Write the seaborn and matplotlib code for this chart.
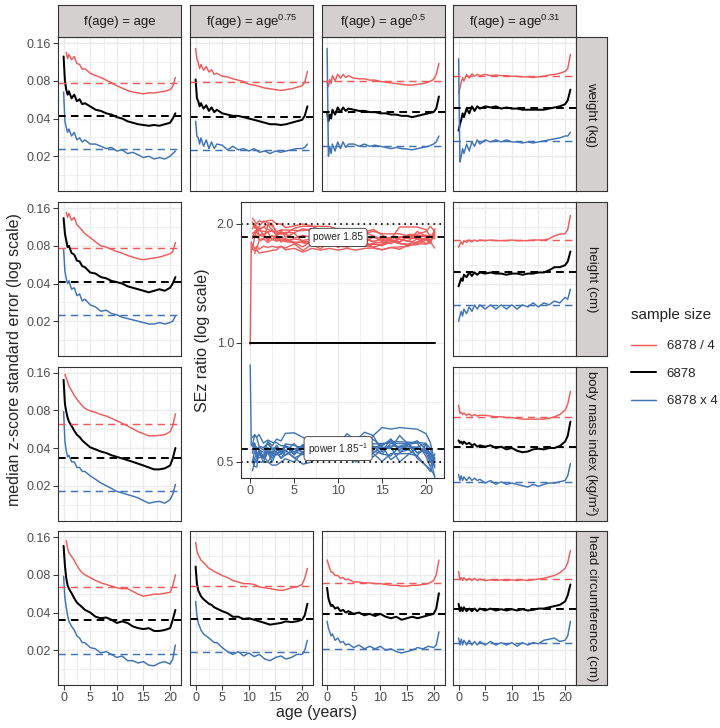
import numpy as np
import pandas as pd
import matplotlib
matplotlib.use("Agg")
import matplotlib.pyplot as plt
import seaborn as sns
from matplotlib.lines import Line2D
from matplotlib.ticker import FixedLocator, FixedFormatter, NullFormatter

nan = np.nan
# ---------------- data ----------------
ages = [0, 0.25, 0.5, 0.75, 1, 1.5, 2, 2.5, 3, 3.5, 4, 5, 6, 7, 8, 9, 10, 11, 12, 13, 14, 15, 16, 17, 18, 19, 20, 20.5, 21]
sample_sizes = ["6878 / 4", "6878", "6878 x 4"]
measures = ["weight (kg)", "height (cm)", "body mass index (kg/m²)", "head circumference (cm)"]
powers = ["f(age) = age", "f(age) = age$^{0.75}$", "f(age) = age$^{0.5}$", "f(age) = age$^{0.31}$"]
power_ratio = 1.85

# weight
wt_p100_red = [nan, nan, 0.135, 0.12, 0.13, 0.118, 0.125, 0.11, 0.108, 0.099, 0.1, 0.092, 0.088, 0.085, 0.081, 0.077, 0.073, 0.07, 0.067, 0.065, 0.064, 0.063, 0.064, 0.064, 0.065, 0.066, 0.068, 0.072, 0.085]
wt_p100_blk = [0.125, 0.08, 0.068, 0.062, 0.066, 0.058, 0.062, 0.055, 0.057, 0.052, 0.053, 0.05, 0.047, 0.046, 0.044, 0.043, 0.041, 0.04, 0.038, 0.037, 0.036, 0.0355, 0.035, 0.0355, 0.035, 0.036, 0.037, 0.04, 0.044]
wt_p100_blu = [0.065, 0.038, 0.034, 0.031, 0.033, 0.029, 0.031, 0.027, 0.028, 0.026, 0.027, 0.025, 0.025, 0.024, 0.023, 0.0235, 0.022, 0.0225, 0.021, 0.0215, 0.0205, 0.0195, 0.02, 0.019, 0.0195, 0.019, 0.02, 0.021, 0.022]
wt_p075_red = [0.145, 0.12, 0.112, 0.1, 0.108, 0.097, 0.104, 0.094, 0.098, 0.09, 0.092, 0.087, 0.086, 0.083, 0.081, 0.079, 0.075, 0.074, 0.072, 0.07, 0.069, 0.068, 0.067, 0.068, 0.069, 0.071, 0.073, 0.078, 0.095]
wt_p075_blk = [0.082, 0.058, 0.055, 0.05, 0.053, 0.048, 0.051, 0.046, 0.049, 0.045, 0.047, 0.044, 0.043, 0.042, 0.042, 0.041, 0.04, 0.039, 0.038, 0.037, 0.036, 0.036, 0.0355, 0.036, 0.037, 0.038, 0.039, 0.042, 0.05]
wt_p075_blu = [0.038, 0.029, 0.028, 0.025, 0.028, 0.024, 0.027, 0.023, 0.026, 0.023, 0.025, 0.0245, 0.0225, 0.024, 0.0225, 0.023, 0.022, 0.023, 0.0215, 0.022, 0.021, 0.022, 0.0215, 0.022, 0.0225, 0.023, 0.023, 0.0235, 0.025]
wt_p050_red = [0.078, 0.072, 0.082, 0.076, 0.088, 0.08, 0.09, 0.084, 0.09, 0.085, 0.088, 0.084, 0.083, 0.083, 0.081, 0.081, 0.079, 0.078, 0.077, 0.076, 0.075, 0.074, 0.074, 0.075, 0.076, 0.078, 0.082, 0.09, 0.11]
wt_p050_blk = [0.045, 0.038, 0.043, 0.04, 0.047, 0.043, 0.049, 0.045, 0.049, 0.046, 0.048, 0.047, 0.046, 0.046, 0.045, 0.045, 0.044, 0.044, 0.043, 0.043, 0.042, 0.042, 0.041, 0.042, 0.043, 0.044, 0.045, 0.048, 0.06]
wt_p050_blu = [0.145, 0.02, 0.024, 0.021, 0.025, 0.022, 0.026, 0.023, 0.026, 0.0235, 0.025, 0.025, 0.024, 0.025, 0.024, 0.0245, 0.024, 0.0235, 0.023, 0.0235, 0.023, 0.0228, 0.0225, 0.023, 0.0235, 0.024, 0.025, 0.026, 0.029]
wt_p031_red = [0.063, 0.07, 0.078, 0.085, 0.08, 0.09, 0.084, 0.091, 0.087, 0.09, 0.088, 0.09, 0.088, 0.089, 0.088, 0.088, 0.087, 0.087, 0.086, 0.086, 0.085, 0.086, 0.087, 0.089, 0.09, 0.092, 0.095, 0.1, 0.13]
wt_p031_blk = [0.032, 0.036, 0.039, 0.044, 0.041, 0.048, 0.044, 0.05, 0.046, 0.05, 0.048, 0.05, 0.049, 0.05, 0.048, 0.049, 0.048, 0.048, 0.047, 0.047, 0.047, 0.047, 0.047, 0.048, 0.049, 0.05, 0.052, 0.056, 0.068]
wt_p031_blu = [0.12, 0.018, 0.02, 0.023, 0.021, 0.025, 0.022, 0.026, 0.024, 0.027, 0.025, 0.027, 0.026, 0.027, 0.026, 0.027, 0.026, 0.026, 0.0255, 0.026, 0.0255, 0.026, 0.0265, 0.027, 0.0275, 0.028, 0.029, 0.029, 0.031]
# height
ht_p100_red = [nan, nan, 0.148, 0.135, 0.145, 0.128, 0.135, 0.118, 0.112, 0.106, 0.1, 0.093, 0.086, 0.08, 0.078, 0.075, 0.072, 0.07, 0.067, 0.065, 0.063, 0.062, 0.063, 0.064, 0.065, 0.067, 0.069, 0.072, 0.085]
ht_p100_blk = [0.133, 0.1, 0.088, 0.078, 0.08, 0.07, 0.068, 0.061, 0.06, 0.055, 0.054, 0.049, 0.048, 0.045, 0.044, 0.042, 0.041, 0.04, 0.038, 0.037, 0.036, 0.035, 0.034, 0.035, 0.036, 0.035, 0.037, 0.04, 0.045]
ht_p100_blu = [0.075, 0.05, 0.044, 0.04, 0.042, 0.036, 0.037, 0.032, 0.033, 0.029, 0.03, 0.027, 0.026, 0.024, 0.0245, 0.023, 0.0225, 0.0215, 0.021, 0.0205, 0.02, 0.0195, 0.019, 0.019, 0.0195, 0.019, 0.0195, 0.02, 0.022]
ht_p031_red = [0.078, 0.083, 0.086, 0.082, 0.088, 0.085, 0.089, 0.086, 0.089, 0.087, 0.089, 0.088, 0.089, 0.088, 0.088, 0.088, 0.089, 0.088, 0.088, 0.088, 0.089, 0.089, 0.089, 0.091, 0.096, 0.099, 0.1, 0.108, 0.14]
ht_p031_blk = [0.038, 0.041, 0.044, 0.042, 0.047, 0.045, 0.049, 0.046, 0.049, 0.047, 0.049, 0.048, 0.049, 0.048, 0.048, 0.047, 0.048, 0.048, 0.047, 0.048, 0.048, 0.049, 0.049, 0.051, 0.054, 0.054, 0.056, 0.06, 0.072]
ht_p031_blu = [0.02, 0.022, 0.024, 0.022, 0.025, 0.023, 0.026, 0.024, 0.027, 0.025, 0.027, 0.025, 0.027, 0.025, 0.027, 0.025, 0.027, 0.025, 0.027, 0.026, 0.028, 0.026, 0.028, 0.027, 0.029, 0.028, 0.031, 0.03, 0.036]
# body mass index
bmi_p100_red = [nan, 0.155, 0.145, 0.135, 0.125, 0.115, 0.105, 0.098, 0.092, 0.087, 0.083, 0.079, 0.077, 0.074, 0.072, 0.069, 0.066, 0.063, 0.06, 0.057, 0.054, 0.052, 0.05, 0.05, 0.0505, 0.051, 0.054, 0.06, 0.075]
bmi_p100_blk = [0.14, 0.09, 0.078, 0.07, 0.065, 0.06, 0.055, 0.051, 0.049, 0.046, 0.044, 0.0405, 0.039, 0.0375, 0.0365, 0.035, 0.034, 0.033, 0.032, 0.031, 0.03, 0.029, 0.028, 0.027, 0.027, 0.0275, 0.029, 0.033, 0.04]
bmi_p100_blu = [0.078, 0.045, 0.038, 0.034, 0.035, 0.031, 0.031, 0.028, 0.028, 0.026, 0.026, 0.024, 0.0225, 0.021, 0.02, 0.019, 0.018, 0.0175, 0.017, 0.0165, 0.016, 0.0152, 0.0145, 0.0148, 0.015, 0.0145, 0.0155, 0.017, 0.0205]
bmi_p031_red = [0.088, 0.076, 0.077, 0.074, 0.076, 0.073, 0.075, 0.072, 0.074, 0.072, 0.073, 0.073, 0.072, 0.071, 0.071, 0.07, 0.07, 0.069, 0.068, 0.068, 0.068, 0.068, 0.068, 0.069, 0.071, 0.074, 0.08, 0.09, 0.113]
bmi_p031_blk = [0.046, 0.044, 0.045, 0.043, 0.045, 0.043, 0.044, 0.042, 0.043, 0.041, 0.042, 0.041, 0.042, 0.04, 0.041, 0.039, 0.04, 0.038, 0.037, 0.0375, 0.039, 0.0395, 0.039, 0.04, 0.04, 0.0415, 0.045, 0.05, 0.065]
bmi_p031_blu = [0.0245, 0.022, 0.024, 0.022, 0.0235, 0.022, 0.0235, 0.022, 0.023, 0.022, 0.0225, 0.021, 0.022, 0.0205, 0.0215, 0.0205, 0.021, 0.0205, 0.02, 0.0195, 0.0205, 0.0198, 0.0205, 0.021, 0.021, 0.0215, 0.022, 0.024, 0.03]
# head circumference
hc_p100_red = [nan, nan, 0.15, 0.13, 0.12, 0.112, 0.104, 0.095, 0.088, 0.083, 0.08, 0.076, 0.072, 0.069, 0.067, 0.065, 0.063, 0.062, 0.062, 0.059, 0.056, 0.054, 0.055, 0.056, 0.056, 0.057, 0.058, 0.065, 0.08]
hc_p100_blk = [0.136, 0.095, 0.075, 0.066, 0.062, 0.057, 0.052, 0.048, 0.046, 0.044, 0.042, 0.04, 0.037, 0.036, 0.0365, 0.035, 0.033, 0.034, 0.033, 0.031, 0.03, 0.0295, 0.03, 0.0285, 0.0285, 0.029, 0.03, 0.035, 0.042]
hc_p100_blu = [0.078, 0.052, 0.044, 0.038, 0.034, 0.031, 0.029, 0.026, 0.025, 0.023, 0.023, 0.021, 0.0205, 0.019, 0.0195, 0.0185, 0.0175, 0.018, 0.0165, 0.0165, 0.0158, 0.0162, 0.0152, 0.015, 0.0158, 0.0162, 0.0155, 0.017, 0.022]
hc_p075_red = [0.145, 0.125, 0.115, 0.11, 0.105, 0.1, 0.095, 0.09, 0.088, 0.085, 0.083, 0.079, 0.076, 0.072, 0.07, 0.068, 0.068, 0.067, 0.064, 0.063, 0.062, 0.061, 0.06, 0.061, 0.063, 0.064, 0.067, 0.075, 0.09]
hc_p075_blk = [0.093, 0.068, 0.06, 0.057, 0.054, 0.051, 0.049, 0.047, 0.046, 0.044, 0.043, 0.041, 0.0395, 0.037, 0.037, 0.0355, 0.036, 0.035, 0.034, 0.033, 0.032, 0.0325, 0.033, 0.034, 0.0335, 0.034, 0.035, 0.038, 0.047]
hc_p075_blu = [0.049, 0.038, 0.033, 0.031, 0.029, 0.027, 0.026, 0.025, 0.024, 0.023, 0.023, 0.021, 0.0195, 0.0185, 0.0195, 0.018, 0.019, 0.0178, 0.0185, 0.017, 0.0165, 0.0175, 0.018, 0.017, 0.0175, 0.0185, 0.0185, 0.02, 0.024]
hc_p050_red = [0.105, 0.097, 0.09, 0.084, 0.084, 0.079, 0.079, 0.075, 0.076, 0.073, 0.074, 0.07, 0.07, 0.069, 0.069, 0.068, 0.068, 0.067, 0.066, 0.066, 0.065, 0.065, 0.066, 0.066, 0.067, 0.068, 0.072, 0.08, 0.105]
hc_p050_blk = [0.063, 0.052, 0.048, 0.045, 0.046, 0.043, 0.044, 0.041, 0.042, 0.04, 0.041, 0.039, 0.04, 0.038, 0.039, 0.0375, 0.039, 0.037, 0.036, 0.037, 0.035, 0.036, 0.037, 0.036, 0.037, 0.038, 0.039, 0.043, 0.057]
hc_p050_blu = [0.034, 0.03, 0.028, 0.026, 0.027, 0.024, 0.025, 0.023, 0.0235, 0.022, 0.0225, 0.021, 0.022, 0.0205, 0.0215, 0.0205, 0.0215, 0.02, 0.0205, 0.0195, 0.019, 0.0195, 0.02, 0.021, 0.0205, 0.0215, 0.021, 0.022, 0.028]
hc_p031_red = [0.085, 0.073, 0.076, 0.072, 0.076, 0.072, 0.075, 0.072, 0.075, 0.072, 0.074, 0.072, 0.073, 0.072, 0.073, 0.072, 0.073, 0.072, 0.073, 0.072, 0.073, 0.074, 0.075, 0.077, 0.079, 0.083, 0.09, 0.1, 0.125]
hc_p031_blk = [0.047, 0.041, 0.044, 0.041, 0.044, 0.041, 0.043, 0.041, 0.043, 0.041, 0.043, 0.0415, 0.043, 0.0415, 0.0425, 0.0415, 0.0425, 0.0415, 0.0425, 0.0415, 0.042, 0.043, 0.043, 0.044, 0.045, 0.046, 0.049, 0.055, 0.067]
hc_p031_blu = [0.025, 0.022, 0.0245, 0.022, 0.024, 0.022, 0.024, 0.022, 0.0235, 0.022, 0.0235, 0.022, 0.0235, 0.022, 0.023, 0.022, 0.023, 0.0215, 0.023, 0.022, 0.023, 0.0225, 0.024, 0.0245, 0.025, 0.0235, 0.024, 0.026, 0.034]

# dashed reference levels per panel column (None = panel replaced by the ratio plot)
dash_wt_red = [0.077, 0.078, 0.079, 0.0867]
dash_wt_blk = [0.042, 0.0415, 0.045, 0.0487]
dash_wt_blu = [0.0227, 0.0225, 0.0242, 0.0264]
dash_ht_red = [0.0762, None, None, 0.0896]
dash_ht_blk = [0.0413, None, None, 0.0497]
dash_ht_blu = [0.0225, None, None, 0.0268]
dash_bmi_red = [0.0624, None, None, 0.0709]
dash_bmi_blk = [0.0333, None, None, 0.0405]
dash_bmi_blu = [0.018, None, None, 0.0216]
dash_hc_red = [0.064, 0.065, 0.0691, 0.074]
dash_hc_blk = [0.0347, 0.0355, 0.0387, 0.0427]
dash_hc_blu = [0.0187, 0.0194, 0.0205, 0.0227]

# the single birth spike in the SEz ratio panel
spike_age = [0.0, 0.12]
spike_red = [0.99, 1.8]
spike_blue = [0.88, 0.55]

panels = {
    (0, 0): (wt_p100_red, wt_p100_blk, wt_p100_blu),
    (0, 1): (wt_p075_red, wt_p075_blk, wt_p075_blu),
    (0, 2): (wt_p050_red, wt_p050_blk, wt_p050_blu),
    (0, 3): (wt_p031_red, wt_p031_blk, wt_p031_blu),
    (1, 0): (ht_p100_red, ht_p100_blk, ht_p100_blu),
    (1, 3): (ht_p031_red, ht_p031_blk, ht_p031_blu),
    (2, 0): (bmi_p100_red, bmi_p100_blk, bmi_p100_blu),
    (2, 3): (bmi_p031_red, bmi_p031_blk, bmi_p031_blu),
    (3, 0): (hc_p100_red, hc_p100_blk, hc_p100_blu),
    (3, 1): (hc_p075_red, hc_p075_blk, hc_p075_blu),
    (3, 2): (hc_p050_red, hc_p050_blk, hc_p050_blu),
    (3, 3): (hc_p031_red, hc_p031_blk, hc_p031_blu),
}
dashes = [
    (dash_wt_red, dash_wt_blk, dash_wt_blu),
    (dash_ht_red, dash_ht_blk, dash_ht_blu),
    (dash_bmi_red, dash_bmi_blk, dash_bmi_blu),
    (dash_hc_red, dash_hc_blk, dash_hc_blu),
]

# ---------------- style ----------------
sns.set_theme(style="white")
plt.rcParams["font.family"] = ["Liberation Sans", "DejaVu Sans"]
plt.rcParams["mathtext.fontset"] = "custom"
plt.rcParams["mathtext.rm"] = "Liberation Sans"
plt.rcParams["mathtext.it"] = "Liberation Sans"
plt.rcParams["mathtext.default"] = "regular"

RED, BLK, BLU = "#EF5B5B", "#000000", "#3F73B5"
colors = [RED, BLK, BLU]
lws = [1.05, 1.45, 1.05]
GRID = "#EBEBEB"
EDGE = "#333333"
TICKC = "#4D4D4D"
STRIP = "#D4D0D0"

W, H = 720, 728
fig = plt.figure(figsize=(W / 100, H / 100), dpi=100, facecolor="white")

def fax(x0, y0, w, h):
    return fig.add_axes([x0 / W, 1 - (y0 + h) / H, w / W, h / H])

col_x = [58, 190, 321.5, 453]
row_y = [37, 202, 366.5, 531]
PW, PH = 123, 154

def style_axes(ax, ylog_major, ylog_minor, ylabels, ylim):
    ax.set_facecolor("white")
    ax.set_xlim(-1.05, 22.05)
    ax.set_yscale("log")
    ax.set_ylim(*ylim)
    ax.xaxis.set_major_locator(FixedLocator([0, 5, 10, 15, 20]))
    ax.xaxis.set_minor_locator(FixedLocator([2.5, 7.5, 12.5, 17.5]))
    ax.yaxis.set_major_locator(FixedLocator(ylog_major))
    ax.yaxis.set_major_formatter(FixedFormatter(ylabels))
    ax.yaxis.set_minor_locator(FixedLocator(ylog_minor))
    ax.yaxis.set_minor_formatter(NullFormatter())
    ax.grid(which="major", color=GRID, lw=1.0)
    ax.grid(which="minor", color=GRID, lw=0.5)
    ax.set_axisbelow(True)
    for s in ax.spines.values():
        s.set_color(EDGE)
        s.set_linewidth(0.8)
    ax.tick_params(which="minor", length=0)
    ax.tick_params(which="major", length=3.5, width=0.7, color=EDGE,
                   labelsize=9, labelcolor=TICKC, pad=1.5)
    ax.set_xlabel("")
    ax.set_ylabel("")

ymaj = [0.02, 0.04, 0.08, 0.16]
ymin = [0.01414, 0.02828, 0.05657, 0.11314]
ylab = ["0.02", "0.04", "0.08", "0.16"]

for (r, c), series in panels.items():
    ax = fax(col_x[c], row_y[r], PW, PH)
    for k, vals in enumerate(series):
        df = pd.DataFrame({"age": ages, "sez": vals}).dropna()
        sns.lineplot(data=df, x="age", y="sez", ax=ax, color=colors[k],
                     lw=lws[k], estimator=None, sort=True, legend=False)
    for k in range(3):
        ax.axhline(dashes[r][k][c], color=colors[k], lw=lws[k],
                   ls=(0, (5, 3.5)) if k != 1 else (0, (3.8, 2.6)))
    style_axes(ax, ymaj, ymin, ylab, (0.01055, 0.179))
    ax.tick_params(left=(c == 0), labelleft=(c == 0),
                   bottom=(r == 3), labelbottom=(r == 3))

# column strips
for c, lab in enumerate(powers):
    sax = fax(col_x[c], 5, PW, 32)
    sax.set_xticks([]); sax.set_yticks([])
    sax.set_facecolor(STRIP)
    for s in sax.spines.values():
        s.set_color(EDGE); s.set_linewidth(0.8)
    sax.text(0.5, 0.47, lab, ha="center", va="center", fontsize=9.5,
             color="#1A1A1A", transform=sax.transAxes)

# row strips
for r, lab in enumerate(measures):
    sax = fax(576, row_y[r], 31, PH)
    sax.set_xticks([]); sax.set_yticks([])
    sax.set_facecolor(STRIP)
    for s in sax.spines.values():
        s.set_color(EDGE); s.set_linewidth(0.8)
    sax.text(0.5, 0.5, lab, ha="center", va="center", fontsize=9.5,
             rotation=270, color="#1A1A1A", transform=sax.transAxes)

# ---------------- SEz ratio inset ----------------
iax = fax(241, 202, 203, 276)
for (r, c), (red, blk, blu) in panels.items():
    blk_a = np.array(blk, float)
    for k, num in [(0, red), (2, blu)]:
        rr = np.array(num, float) / blk_a
        df = pd.DataFrame({"age": ages, "ratio": rr})
        df = df[df["age"] > 0].dropna()
        sns.lineplot(data=df, x="age", y="ratio", ax=iax, color=colors[k], lw=1.0,
                     estimator=None, sort=True, legend=False)
sns.lineplot(x=spike_age, y=spike_red, ax=iax, color=RED, lw=1.0, estimator=None, legend=False)
sns.lineplot(x=spike_age, y=spike_blue, ax=iax, color=BLU, lw=1.0, estimator=None, legend=False)
sns.lineplot(x=[0, 21], y=[1.0, 1.0], ax=iax, color=BLK, lw=1.4, estimator=None, legend=False)
iax.axhline(power_ratio, color=BLK, lw=1.3, ls=(0, (3.8, 2.6)))
iax.axhline(1 / power_ratio, color=BLK, lw=1.3, ls=(0, (3.8, 2.6)))
iax.axhline(2.0, color=BLK, lw=1.2, ls=(0, (1, 2.5)))
iax.axhline(0.5, color=BLK, lw=1.2, ls=(0, (1, 2.5)))
style_axes(iax, [0.5, 1.0, 2.0], [0.7071, 1.4142], ["0.5", "1.0", "2.0"], (0.4555, 2.273))
iax.tick_params(left=True, bottom=True, labelleft=True, labelbottom=True)
box = dict(boxstyle="round,pad=0.4,rounding_size=0.3", fc="white", ec="#333333", lw=0.6)
iax.text(10, power_ratio, "power 1.85", ha="center", va="center", fontsize=7.3, bbox=box)
iax.text(10, 1 / power_ratio, "power 1.85$^{-1}$", ha="center", va="center", fontsize=7.3, bbox=box)
fig.text(203 / W, 1 - 340 / H, "SEz ratio (log scale)", rotation=90, ha="center",
         va="center", fontsize=11.5)

# ---------------- axis titles & legend ----------------
fig.text(15 / W, 1 - 360 / H, "median z-score standard error (log scale)", rotation=90,
         ha="center", va="center", fontsize=11.5)
fig.text(317 / W, 1 - 712 / H, "age (years)", ha="center", va="center", fontsize=11.5)

handles = [Line2D([], [], color=colors[k], lw=lws[k]) for k in range(3)]
leg = fig.legend(handles, sample_sizes, title="sample size", loc="upper left",
                 bbox_to_anchor=(631 / W, 1 - 311 / H), frameon=False, fontsize=9.5,
                 title_fontsize=11, handlelength=1.9, labelspacing=1.15,
                 handletextpad=0.8, borderpad=0, borderaxespad=0, alignment="left")
leg.get_title().set_position((0, 3))

fig.savefig("out.png", dpi=100, facecolor="white")
